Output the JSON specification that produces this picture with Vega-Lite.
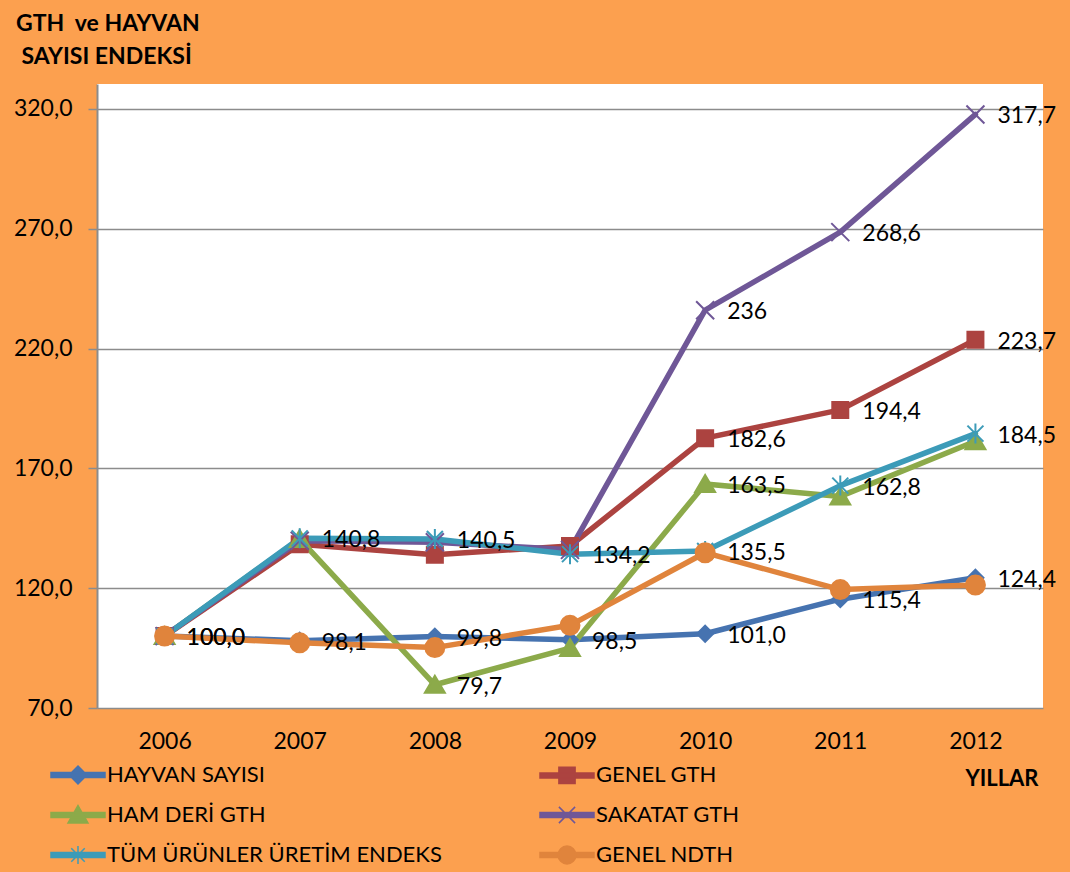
{
  "$schema": "https://vega.github.io/schema/vega-lite/v6.json",
  "width": 946,
  "height": 624,
  "autosize": {"type": "none"},
  "padding": {"left": 97, "top": 84, "right": 27, "bottom": 164},
  "background": "#FCA04F",
  "config": {"view": {"fill": "white", "stroke": null}, "font": "Lato"},
  "title": {
    "text": ["GTH\u00a0 ve HAYVAN", "\u200b\u00a0SAYISI ENDEKSİ"],
    "anchor": "start",
    "frame": "group",
    "dx": -81,
    "fontSize": 23,
    "fontWeight": "bold",
    "font": "Lato",
    "color": "black",
    "lineHeight": 33,
    "offset": 15
  },
  "data": {
    "values": [
      {"series": "HAYVAN SAYISI", "year": "2006", "value": 100.0, "lbl": "100,0"},
      {"series": "HAYVAN SAYISI", "year": "2007", "value": 98.1, "lbl": "98,1"},
      {"series": "HAYVAN SAYISI", "year": "2008", "value": 99.8, "lbl": "99,8"},
      {"series": "HAYVAN SAYISI", "year": "2009", "value": 98.5, "lbl": "98,5"},
      {"series": "HAYVAN SAYISI", "year": "2010", "value": 101.0, "lbl": "101,0"},
      {"series": "HAYVAN SAYISI", "year": "2011", "value": 115.4, "lbl": "115,4"},
      {"series": "HAYVAN SAYISI", "year": "2012", "value": 124.4, "lbl": "124,4"},
      {"series": "GENEL GTH", "year": "2006", "value": 100.0, "lbl": null},
      {"series": "GENEL GTH", "year": "2007", "value": 138.3, "lbl": null},
      {"series": "GENEL GTH", "year": "2008", "value": 134.0, "lbl": null},
      {"series": "GENEL GTH", "year": "2009", "value": 137.6, "lbl": null},
      {"series": "GENEL GTH", "year": "2010", "value": 182.6, "lbl": "182,6"},
      {"series": "GENEL GTH", "year": "2011", "value": 194.4, "lbl": "194,4"},
      {"series": "GENEL GTH", "year": "2012", "value": 223.7, "lbl": "223,7"},
      {"series": "HAM DERİ GTH", "year": "2006", "value": 100.0, "lbl": null},
      {"series": "HAM DERİ GTH", "year": "2007", "value": 140.5, "lbl": null},
      {"series": "HAM DERİ GTH", "year": "2008", "value": 79.7, "lbl": "79,7"},
      {"series": "HAM DERİ GTH", "year": "2009", "value": 95.0, "lbl": null},
      {"series": "HAM DERİ GTH", "year": "2010", "value": 163.5, "lbl": "163,5"},
      {"series": "HAM DERİ GTH", "year": "2011", "value": 158.3, "lbl": null},
      {"series": "HAM DERİ GTH", "year": "2012", "value": 181.3, "lbl": null},
      {"series": "SAKATAT GTH", "year": "2006", "value": 100.0, "lbl": null},
      {"series": "SAKATAT GTH", "year": "2007", "value": 139.8, "lbl": null},
      {"series": "SAKATAT GTH", "year": "2008", "value": 139.2, "lbl": null},
      {"series": "SAKATAT GTH", "year": "2009", "value": 136.0, "lbl": null},
      {"series": "SAKATAT GTH", "year": "2010", "value": 236.0, "lbl": "236"},
      {"series": "SAKATAT GTH", "year": "2011", "value": 268.6, "lbl": "268,6"},
      {"series": "SAKATAT GTH", "year": "2012", "value": 317.7, "lbl": "317,7"},
      {"series": "TÜM ÜRÜNLER ÜRETİM ENDEKS", "year": "2006", "value": 100.0, "lbl": "100,0"},
      {"series": "TÜM ÜRÜNLER ÜRETİM ENDEKS", "year": "2007", "value": 140.8, "lbl": "140,8"},
      {"series": "TÜM ÜRÜNLER ÜRETİM ENDEKS", "year": "2008", "value": 140.5, "lbl": "140,5"},
      {"series": "TÜM ÜRÜNLER ÜRETİM ENDEKS", "year": "2009", "value": 134.2, "lbl": "134,2"},
      {"series": "TÜM ÜRÜNLER ÜRETİM ENDEKS", "year": "2010", "value": 135.5, "lbl": "135,5"},
      {"series": "TÜM ÜRÜNLER ÜRETİM ENDEKS", "year": "2011", "value": 162.8, "lbl": "162,8"},
      {"series": "TÜM ÜRÜNLER ÜRETİM ENDEKS", "year": "2012", "value": 184.5, "lbl": "184,5"},
      {"series": "GENEL NDTH", "year": "2006", "value": 100.0, "lbl": null},
      {"series": "GENEL NDTH", "year": "2007", "value": 97.2, "lbl": null},
      {"series": "GENEL NDTH", "year": "2008", "value": 95.2, "lbl": null},
      {"series": "GENEL NDTH", "year": "2009", "value": 104.5, "lbl": null},
      {"series": "GENEL NDTH", "year": "2010", "value": 134.8, "lbl": null},
      {"series": "GENEL NDTH", "year": "2011", "value": 119.4, "lbl": null},
      {"series": "GENEL NDTH", "year": "2012", "value": 121.3, "lbl": null}
    ]
  },
  "encoding": {
    "x": {
      "field": "year",
      "type": "ordinal",
      "scale": {"type": "point", "padding": 0.5},
      "axis": {
        "title": "YILLAR",
        "titleFontWeight": "bold",
        "titleFontSize": 22,
        "titleFont": "Lato",
        "titleColor": "black",
        "titleAnchor": "end",
        "titleAlign": "right",
        "titleBaseline": "middle",
        "titleX": 941,
        "titleY": 70,
        "labelAngle": 0,
        "labelFontSize": 23,
        "labelFont": "Lato",
        "labelColor": "black",
        "labelPadding": 22,
        "domain": false,
        "ticks": false,
        "grid": false
      }
    },
    "y": {
      "field": "value",
      "type": "quantitative",
      "scale": {"domain": [70, 330.4], "nice": false, "zero": false},
      "axis": {
        "title": null,
        "values": [70, 120, 170, 220, 270, 320],
        "labelExpr": "replace(format(datum.value, '.1f'), '.', ',')",
        "grid": true,
        "gridColor": "#8C8C8C",
        "gridWidth": 1.5,
        "domainColor": "#8C8C8C",
        "domainWidth": 2,
        "tickColor": "#8C8C8C",
        "tickSize": 9,
        "tickWidth": 1.5,
        "labelFontSize": 23,
        "labelFont": "Lato",
        "labelColor": "black",
        "labelPadding": 16
      }
    },
    "color": {
      "field": "series",
      "type": "nominal",
      "scale": {
        "domain": ["HAYVAN SAYISI", "GENEL GTH", "HAM DERİ GTH", "SAKATAT GTH", "TÜM ÜRÜNLER ÜRETİM ENDEKS", "GENEL NDTH"],
        "range": ["#4673B0", "#AC4340", "#8CAA4A", "#6F5797", "#3C9BB8", "#E0843C"]
      },
      "legend": {
        "orient": "none",
        "direction": "horizontal",
        "legendX": -47,
        "legendY": 663,
        "columns": 2,
        "title": null,
        "symbolSize": 2916,
        "symbolStrokeWidth": 1.5,
        "labelFontSize": 22,
        "labelFont": "Lato",
        "labelColor": "black",
        "labelOffset": 1,
        "labelLimit": 600,
        "rowPadding": -2,
        "columnPadding": 95,
        "encode": {
          "symbols": {
            "update": {
              "shape": {"signal": "datum.value === 'HAYVAN SAYISI' ? 'M-1,-0.09H1V0.09H-1ZM0,-0.33L0.33,0L0,0.33L-0.33,0Z' : datum.value === 'GENEL GTH' ? 'M-1,-0.09H1V0.09H-1ZM-0.3,-0.3H0.3V0.3H-0.3Z' : datum.value === 'HAM DERİ GTH' ? 'M-1,-0.09H1V0.09H-1ZM0,-0.35L0.37,0.3H-0.37Z' : datum.value === 'SAKATAT GTH' ? 'M-1,-0.09H1V0.09H-1ZM-0.3,-0.3L0.3,0.3M-0.3,0.3L0.3,-0.3' : datum.value === 'GENEL NDTH' ? 'M-1,-0.09H1V0.09H-1ZM0.33,0A0.33,0.33,0,1,1,-0.33,0A0.33,0.33,0,1,1,0.33,0Z' : 'M-1,-0.09H1V0.09H-1ZM0,-0.33V0.33M-0.25,-0.25L0.25,0.25M-0.25,0.25L0.25,-0.25'"},
              "fill": {"scale": "color", "field": "value"},
              "stroke": {"scale": "color", "field": "value"},
              "strokeWidth": {"value": 1.5},
              "opacity": {"value": 1}
            }
          }
        }
      }
    }
  },
  "layer": [
    {
      "mark": {"type": "line", "strokeWidth": 5.5, "strokeCap": "round", "strokeJoin": "round"}
    },
    {
      "transform": [{"filter": "datum.series === 'HAYVAN SAYISI'"}],
      "mark": {"type": "point", "filled": true, "size": 400, "opacity": 1, "strokeWidth": 2, "shape": "M0,-0.8L0.8,0L0,0.8L-0.8,0Z"},
      "encoding": {"stroke": {"field": "series", "type": "nominal", "scale": {"domain": ["HAYVAN SAYISI", "GENEL GTH", "HAM DERİ GTH", "SAKATAT GTH", "TÜM ÜRÜNLER ÜRETİM ENDEKS", "GENEL NDTH"], "range": ["#4673B0", "#AC4340", "#8CAA4A", "#6F5797", "#3C9BB8", "#E0843C"]}, "legend": null}}
    },
    {
      "transform": [{"filter": "datum.series === 'GENEL GTH'"}],
      "mark": {"type": "point", "filled": true, "size": 400, "opacity": 1, "strokeWidth": 2, "shape": "M-0.8,-0.8H0.8V0.8H-0.8Z"},
      "encoding": {"stroke": {"field": "series", "type": "nominal", "legend": null}}
    },
    {
      "transform": [{"filter": "datum.series === 'HAM DERİ GTH'"}],
      "mark": {"type": "point", "filled": true, "size": 400, "opacity": 1, "strokeWidth": 2, "shape": "M0,-0.9L1,0.8H-1Z"},
      "encoding": {"stroke": {"field": "series", "type": "nominal", "legend": null}}
    },
    {
      "transform": [{"filter": "datum.series === 'SAKATAT GTH'"}],
      "mark": {"type": "point", "filled": true, "size": 400, "opacity": 1, "strokeWidth": 2, "shape": "M-0.9,-0.9L0.9,0.9M-0.9,0.9L0.9,-0.9"},
      "encoding": {"stroke": {"field": "series", "type": "nominal", "legend": null}}
    },
    {
      "transform": [{"filter": "datum.series === 'TÜM ÜRÜNLER ÜRETİM ENDEKS'"}],
      "mark": {"type": "point", "filled": true, "size": 400, "opacity": 1, "strokeWidth": 2, "shape": "M0,-1V1M-0.8,-0.8L0.8,0.8M-0.8,0.8L0.8,-0.8"},
      "encoding": {"stroke": {"field": "series", "type": "nominal", "legend": null}}
    },
    {
      "transform": [{"filter": "datum.series === 'GENEL NDTH'"}],
      "mark": {"type": "point", "filled": true, "size": 400, "opacity": 1, "strokeWidth": 2, "shape": "M0.95,0A0.95,0.95,0,1,1,-0.95,0A0.95,0.95,0,1,1,0.95,0Z"},
      "encoding": {"stroke": {"field": "series", "type": "nominal", "legend": null}}
    },
    {
      "transform": [{"filter": "datum.lbl != null"}],
      "mark": {"type": "text", "align": "left", "baseline": "middle", "dx": 22, "dy": 2, "fontSize": 23, "font": "Lato"},
      "encoding": {
        "text": {"field": "lbl"},
        "color": {"value": "black"}
      }
    }
  ]
}
